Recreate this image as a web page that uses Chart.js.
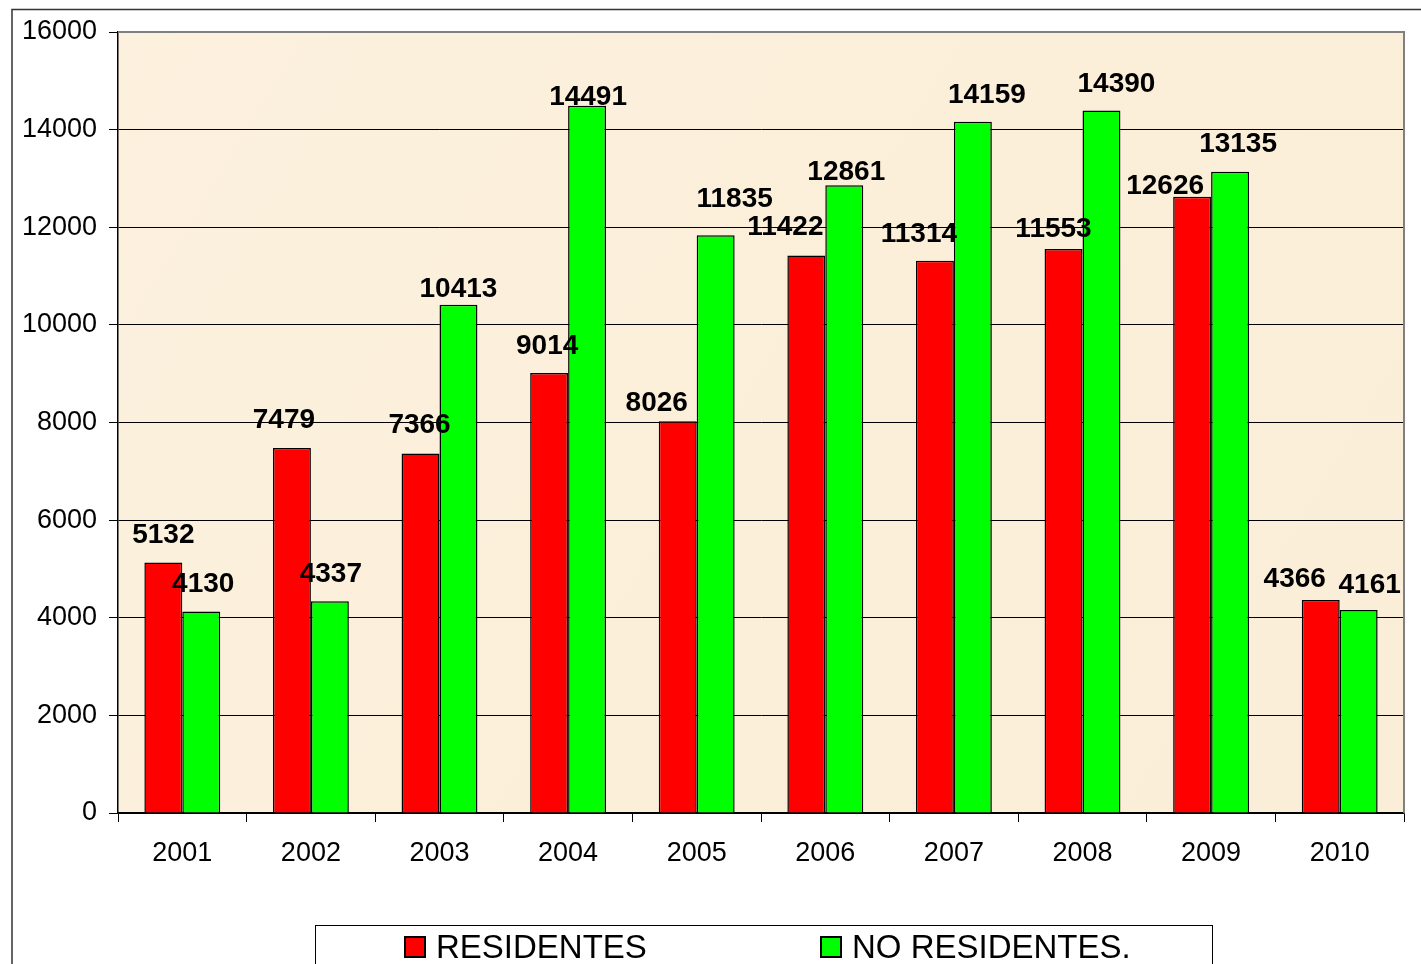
<!DOCTYPE html>
<html>
<head>
<meta charset="utf-8">
<script src="https://cdn.jsdelivr.net/npm/chart.js@4/dist/chart.umd.min.js"></script>
<style>
  html, body { margin: 0; padding: 0; background: #fff; }
  #wrap { width: 1421px; height: 964px; position: relative; }
</style>
</head>
<body>
<div id="wrap"><canvas id="c" width="1421" height="964"></canvas></div>
<script>
// ---- data ----
const years = ['2001','2002','2003','2004','2005','2006','2007','2008','2009','2010'];
const residentes = [5132, 7479, 7366, 9014, 8026, 11422, 11314, 11553, 12626, 4366];
const noResidentes = [4130, 4337, 10413, 14491, 11835, 12861, 14159, 14390, 13135, 4161];
const seriesNames = ['RESIDENTES', 'NO RESIDENTES.'];
const yTicks = [0, 2000, 4000, 6000, 8000, 10000, 12000, 14000, 16000];

// ---- label nudges (style only) [dx, dy] ----
const nudgeRes = [[0,0],[-8,-1],[-1,-1],[-2,0],[-21,9],[-21,-1],[-16,1],[-10,7],[-27,17],[-26,6]];
const nudgeNo  = [[2,0],[1,0],[0,12],[1,19],[19,-9],[2,14],[14,0],[15,1],[8,-1],[11,2]];

const FONT = '"Liberation Sans", Arial, sans-serif';
const colors = ['#FF0000', '#00FF00'];

const frame = {
  id: 'frame',
  beforeDraw(chart) {
    const ctx = chart.ctx, a = chart.chartArea;
    ctx.save();
    ctx.fillStyle = '#ffffff';
    ctx.fillRect(0, 0, chart.width, chart.height);
    // plot background (parchment)
    const g = ctx.createLinearGradient(a.left, a.top, a.right, a.bottom);
    g.addColorStop(0, '#FCF1DE');
    g.addColorStop(0.5, '#FBEFDA');
    g.addColorStop(1, '#FBEED8');
    ctx.fillStyle = g;
    ctx.fillRect(a.left, a.top, a.right - a.left, a.bottom - a.top);
    // outer border
    ctx.strokeStyle = '#333333';
    ctx.lineWidth = 1.5;
    ctx.beginPath();
    ctx.moveTo(12, chart.height + 2);
    ctx.lineTo(12, 9.5);
    ctx.lineTo(chart.width + 2, 9.5);
    ctx.stroke();
    ctx.restore();
  },
  afterDraw(chart) {
    const ctx = chart.ctx, a = chart.chartArea;
    ctx.save();
    // plot border top and right (gray)
    ctx.strokeStyle = '#808080';
    ctx.lineWidth = 2;
    ctx.beginPath();
    ctx.moveTo(a.left, a.top);
    ctx.lineTo(a.right, a.top);
    ctx.lineTo(a.right, a.bottom);
    ctx.stroke();
    // data labels
    ctx.font = 'bold 28px ' + FONT;
    ctx.fillStyle = '#000';
    ctx.textAlign = 'center';
    ctx.textBaseline = 'middle';
    const nudges = [nudgeRes, nudgeNo];
    chart.data.datasets.forEach((ds, di) => {
      chart.getDatasetMeta(di).data.forEach((bar, i) => {
        const n = nudges[di][i];
        ctx.fillText(String(ds.data[i]), bar.x + n[0], bar.y - 27 + n[1]);
      });
    });
    // legend
    ctx.fillStyle = '#ffffff';
    ctx.fillRect(315, 925, 1212 - 315, 60);
    ctx.strokeStyle = '#000';
    ctx.lineWidth = 1;
    ctx.strokeRect(315.5, 925.5, 1212 - 315, 60);
    const items = [[405, 436], [821, 852]];
    ctx.font = '33px ' + FONT;
    ctx.textAlign = 'left';
    ctx.textBaseline = 'alphabetic';
    chart.data.datasets.forEach((ds, di) => {
      const [bx, tx] = items[di];
      ctx.fillStyle = ds.backgroundColor;
      ctx.fillRect(bx, 937, 20, 20);
      ctx.strokeStyle = '#000';
      ctx.lineWidth = 2;
      ctx.strokeRect(bx, 937, 20, 20);
      ctx.fillStyle = '#000';
      ctx.fillText(ds.label, tx, 958);
    });
    ctx.restore();
  }
};

new Chart(document.getElementById('c'), {
  type: 'bar',
  data: {
    labels: years,
    datasets: [
      { label: seriesNames[0], data: residentes, backgroundColor: colors[0], borderColor: '#000', borderWidth: 1.5 },
      { label: seriesNames[1], data: noResidentes, backgroundColor: colors[1], borderColor: '#000', borderWidth: 1.5 }
    ]
  },
  options: {
    responsive: false,
    animation: false,
    devicePixelRatio: 1,
    layout: { padding: { left: 0, top: 32, right: 17, bottom: 0 } },
    datasets: { bar: { barPercentage: 1.0, categoryPercentage: 0.59 } },
    plugins: { legend: { display: false }, tooltip: { enabled: false } },
    scales: {
      x: {
        offset: true,
        grid: { offset: true, drawOnChartArea: false, drawTicks: true, tickLength: 9, color: '#000', lineWidth: 1 },
        border: { color: '#000', width: 1.5 },
        ticks: { color: '#000', font: { family: FONT, size: 27 }, padding: 15, maxRotation: 0 },
        afterFit(s) { s.height = 964 - 813; }
      },
      y: {
        min: 0, max: 16000,
        afterBuildTicks(s) { s.ticks = yTicks.map(v => ({ value: v })); },
        grid: { color: '#000', lineWidth: 1, tickLength: 9, drawTicks: true },
        border: { color: '#000', width: 1.5 },
        ticks: { color: '#000', font: { family: FONT, size: 27 }, padding: 12, callback: v => String(v) },
        afterFit(s) { s.width = 118; }
      }
    }
  },
  plugins: [frame]
});
</script>
</body>
</html>
